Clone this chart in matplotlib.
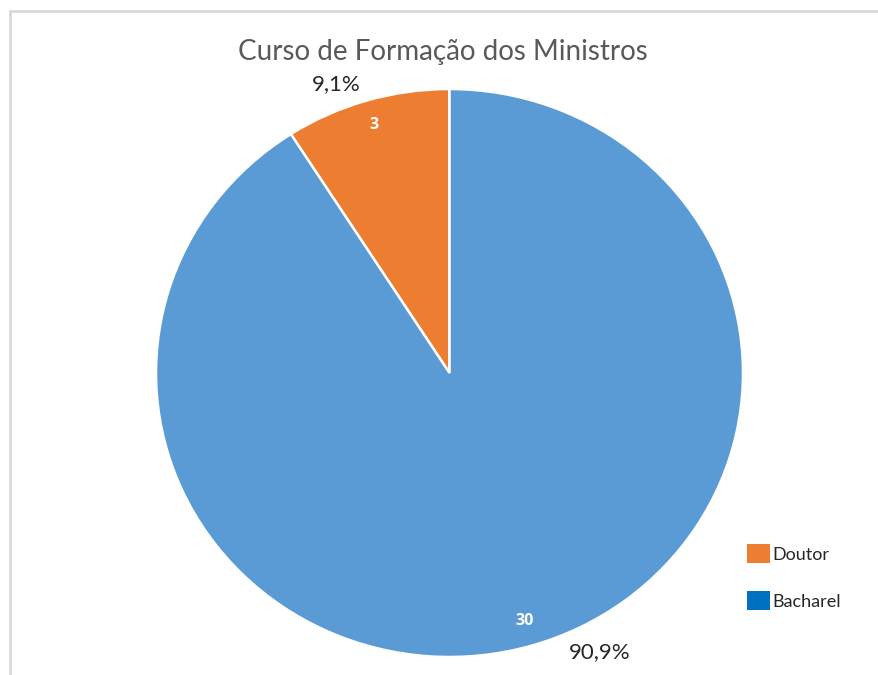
import numpy as np
import matplotlib
matplotlib.use('Agg')
import matplotlib.pyplot as plt
from matplotlib.patches import Rectangle, Patch

# Chart data
categories = ['Doutor', 'Bacharel']
values = [3, 30]
pct_labels = ['9,1%', '90,9%']
title = 'Curso de Formação dos Ministros'

# Styles
pie_colors = ['#ED7D31', '#5B9BD5']
legend_colors = ['#ED7D31', '#0070C0']
pct_offsets = [(-17, -4), (44, 11)]   # nudge of outside labels, in points

plt.rcParams['font.family'] = ['Lato', 'DejaVu Sans']

W, H = 879, 675
fig = plt.figure(figsize=(W/100, H/100), dpi=100)

# Light grey frame of the chart area (cut off on right and bottom)
fig.add_artist(Rectangle((9.5/W, -0.1), 1.2, (H-11)/H + 0.1,
                         transform=fig.transFigure, fill=False,
                         edgecolor='#D9D9D9', linewidth=2))

# Axes sized to the pie (slightly wider than tall, as in the original)
ax = fig.add_axes([156/W, 18/H, 587/W, 568/H])
wedges, _ = ax.pie(values, colors=pie_colors, startangle=90, counterclock=True,
                   radius=1, wedgeprops=dict(edgecolor='white', linewidth=1.8))
ax.set_aspect('auto')
ax.set_xlim(-1, 1)
ax.set_ylim(-1, 1)

# Value labels inside, percentage labels outside
for w, v, p, off in zip(wedges, values, pct_labels, pct_offsets):
    mid = np.deg2rad((w.theta1 + w.theta2) / 2)
    ax.text(0.91*np.cos(mid), 0.91*np.sin(mid), str(v), ha='center', va='center',
            color='white', fontsize=11.5, fontweight='bold',
            family=['Open Sans', 'DejaVu Sans'])
    ax.annotate(p, xy=(1.08*np.cos(mid), 1.08*np.sin(mid)), xytext=off,
                textcoords='offset points', ha='center', va='center',
                color='#262626', fontsize=16, annotation_clip=False)

fig.text(443/W, 1 - 52/H, title, ha='center', va='center',
         color='#595959', fontsize=20)

handles = [Patch(facecolor=c, edgecolor='none') for c in legend_colors]
fig.legend(handles, categories, loc='upper left', bbox_to_anchor=(731/W, 1 - 528/H),
           frameon=False, fontsize=13, handlelength=1.25, handleheight=1.25,
           handletextpad=0.15, labelspacing=1.55, labelcolor='#262626')

fig.savefig('out.png', dpi=100)
